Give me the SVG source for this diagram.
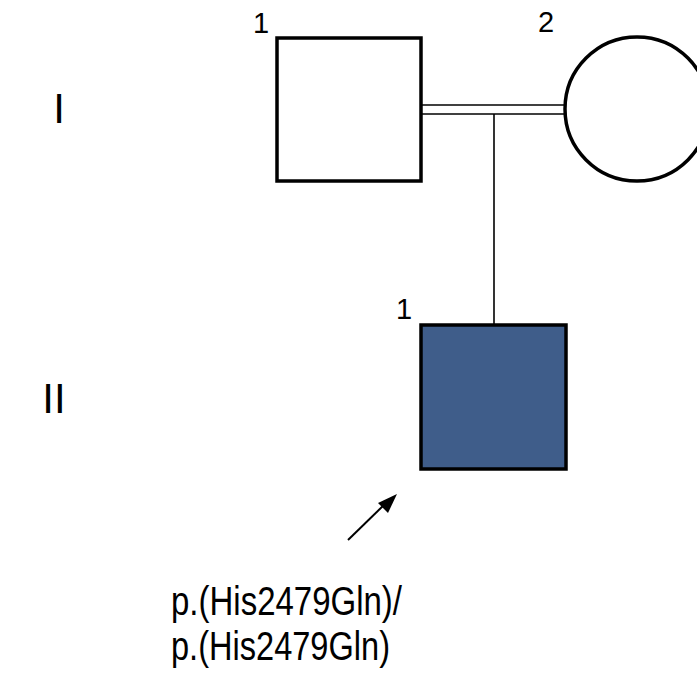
<svg xmlns="http://www.w3.org/2000/svg" width="697" height="680" viewBox="0 0 697 680">
<style>
.t{font-family:"Liberation Sans",Arial,sans-serif;fill:#000}
.sym{stroke:#000;stroke-width:3.5}
.ln{stroke:#000;stroke-width:1.6;fill:none}
.num{font-size:29px}
.gen{font-size:42px}
.geno{font-size:41px}
</style>
<rect width="697" height="680" fill="#fff"/>
<text class="t gen" x="59" y="123" text-anchor="middle">I</text>
<text class="t gen" x="54" y="413" text-anchor="middle">II</text>
<g id="connectors">
<line class="ln" x1="421" y1="105" x2="565" y2="105"/>
<line class="ln" x1="421" y1="114" x2="565" y2="114"/>
<line class="ln" x1="494" y1="114" x2="494" y2="324"/>
</g>
<g id="I-1">
<rect class="sym" x="277" y="38" width="144" height="143" fill="#fff"/>
<text class="t num" x="261" y="33" text-anchor="middle">1</text>
</g>
<g id="I-2">
<circle class="sym" cx="637" cy="109" r="72" fill="#fff"/>
<text class="t num" x="546" y="32" text-anchor="middle">2</text>
</g>
<g id="II-1">
<rect class="sym" x="421" y="325" width="145" height="144" fill="#3f5d8a"/>
<text class="t num" x="404" y="319" text-anchor="middle">1</text>
</g>
<g id="proband-arrow">
<line x1="348" y1="540" x2="386" y2="503" stroke="#000" stroke-width="2"/>
<path d="M397,494 L378,503 L388,513 Z" fill="#000"/>
</g>
<g id="genotype">
<text class="t geno" x="171" y="615" textLength="231" lengthAdjust="spacingAndGlyphs">p.(His2479Gln)/</text>
<text class="t geno" x="171" y="660" textLength="219" lengthAdjust="spacingAndGlyphs">p.(His2479Gln)</text>
</g>
</svg>
